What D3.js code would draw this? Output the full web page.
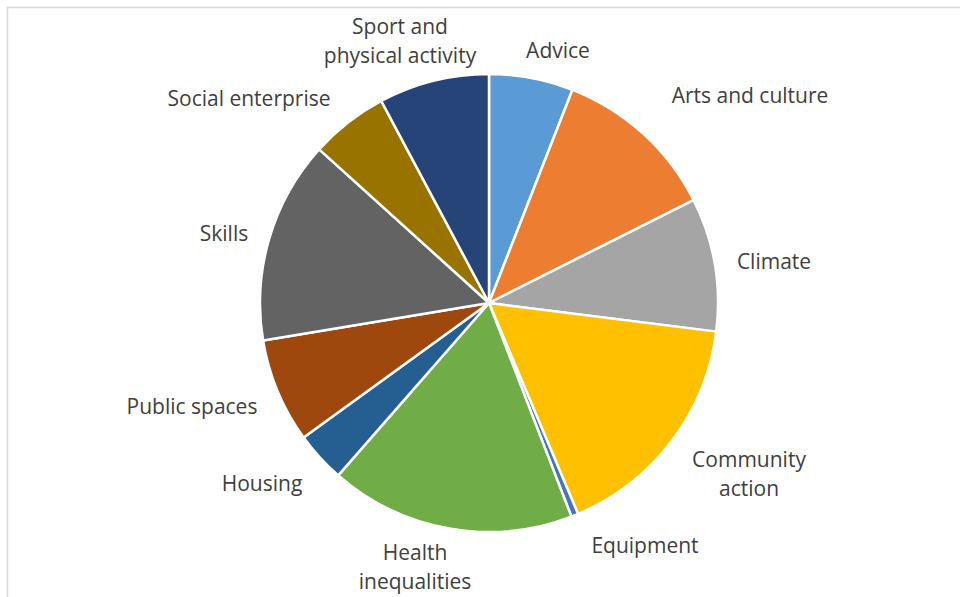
<!DOCTYPE html>
<html><head><meta charset="utf-8">
<script src="https://cdn.jsdelivr.net/npm/d3@7"></script>
<style>body{margin:0;background:#fff}svg{display:block}</style>
</head><body>
<script>
const categories = ["Advice","Arts and culture","Climate","Community action","Equipment","Health inequalities","Housing","Public spaces","Skills","Social enterprise","Sport and physical activity"];
const values = [5.94,11.64,9.42,16.65,0.5,17.3,3.58,7.36,14.33,5.5,7.8];
const colors = ["#5B9BD5","#ED7D31","#A5A5A5","#FFC000","#4472C4","#70AD47","#255E91","#9E480E","#636363","#997300","#264478"];
const labelLines = [["Advice"],["Arts and culture"],["Climate"],["Community","action"],["Equipment"],["Health","inequalities"],["Housing"],["Public spaces"],["Skills"],["Social enterprise"],["Sport and","physical activity"]];

// layout (label anchor points, text centres)
const labelAt = [[558,50],[750,95],[774,261],[749,474],[645,545],[415,567],[262,483],[192,406],[224,233],[249,98],[400,41]];

const W=960,H=597, cx=489, cy=303, R=229;
const svg=d3.select("body").append("svg").attr("width",W).attr("height",H);
svg.append("rect").attr("x",7.5).attr("y",7.5).attr("width",W).attr("height",H)
  .attr("fill","#fff").attr("stroke","#D9D9D9").attr("stroke-width",1.5);

const pie=d3.pie().sort(null).value(d=>d)(values);
const arc=d3.arc().innerRadius(0).outerRadius(R);
const g=svg.append("g").attr("transform",`translate(${cx},${cy})`);
g.selectAll("path").data(pie).join("path")
  .attr("d",arc).attr("fill",(d,i)=>colors[i])
  .attr("stroke","#fff").attr("stroke-width",2.5).attr("stroke-linejoin","round");

const lh=29.5;
const lab=svg.append("g").attr("font-family","'Open Sans', sans-serif")
  .attr("font-size",21).attr("fill","#404040").attr("text-anchor","middle");
categories.forEach((c,i)=>{
  const lines=labelLines[i];
  const [x,y]=labelAt[i];
  const t=lab.append("text").attr("x",x).attr("y",y);
  lines.forEach((l,j)=>{
    t.append("tspan").attr("x",x)
     .attr("dy", j===0 ? ((-(lines.length-1)*lh/2)+7.5)+"px" : lh+"px").text(l);
  });
});
</script>
</body></html>
